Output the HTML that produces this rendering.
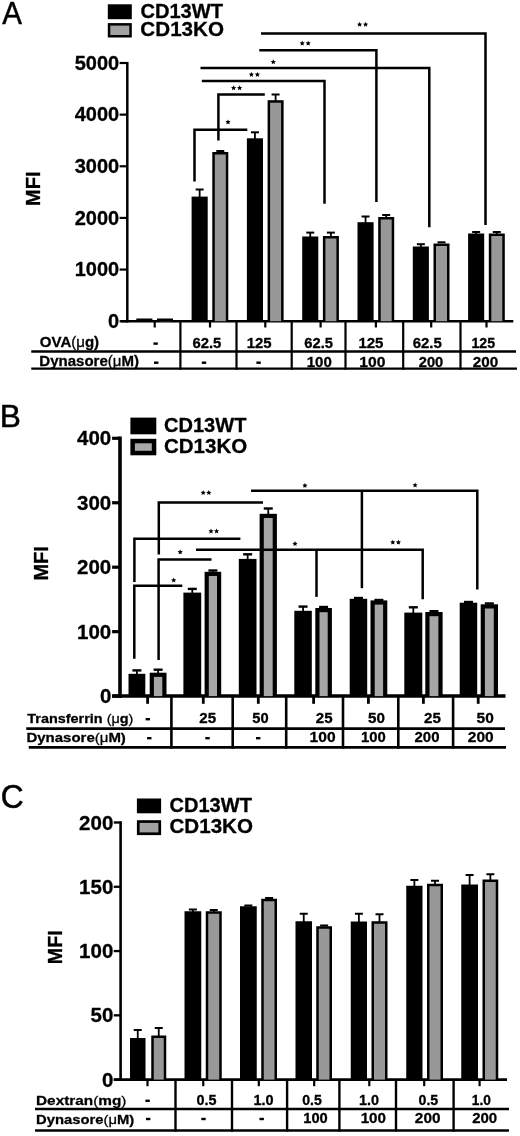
<!DOCTYPE html>
<html><head><meta charset="utf-8"><style>
html,body{margin:0;padding:0;background:#fff;overflow:hidden;width:520px;height:1136px;}
svg{display:block;will-change:transform;}
text{font-family:"Liberation Sans",sans-serif;font-size:100px;fill:#000;}
</style></head><body>
<svg width="520" height="1136" viewBox="0 0 520 1136" stroke="#000">
<text transform="translate(2.15,24.25) scale(0.2955,0.3203)" font-weight="normal" stroke="#000" stroke-width="1.69" stroke-linejoin="round">A</text>
<rect x="107.8" y="4.3" width="24" height="14.9" fill="#000" stroke="none"/>
<rect x="107.8" y="23.1" width="24" height="14.4" fill="#000" stroke="none"/>
<rect x="110.3" y="25.6" width="19" height="9.4" fill="#a2a2a2" stroke="none"/>
<text transform="translate(140.4,17.9) scale(0.2012,0.2000)" font-weight="bold" stroke="#000" stroke-width="1.50" stroke-linejoin="round">CD13WT</text>
<text transform="translate(140.37,36.3) scale(0.2063,0.2000)" font-weight="bold" stroke="#000" stroke-width="1.48" stroke-linejoin="round">CD13KO</text>
<line x1="127.3" y1="62" x2="127.3" y2="322.45" stroke-width="2.5" stroke-linecap="butt"/>
<line x1="119.6" y1="63" x2="127.3" y2="63" stroke-width="2.2" stroke-linecap="butt"/>
<text transform="translate(74.7,69.8) scale(0.2000,0.2000)" font-weight="bold" stroke="#000" stroke-width="1.50" stroke-linejoin="round">5000</text>
<line x1="119.6" y1="114.64" x2="127.3" y2="114.64" stroke-width="2.2" stroke-linecap="butt"/>
<text transform="translate(74.7,121.44) scale(0.2000,0.2000)" font-weight="bold" stroke="#000" stroke-width="1.50" stroke-linejoin="round">4000</text>
<line x1="119.6" y1="166.28" x2="127.3" y2="166.28" stroke-width="2.2" stroke-linecap="butt"/>
<text transform="translate(74.7,173.08) scale(0.2000,0.2000)" font-weight="bold" stroke="#000" stroke-width="1.50" stroke-linejoin="round">3000</text>
<line x1="119.6" y1="217.92" x2="127.3" y2="217.92" stroke-width="2.2" stroke-linecap="butt"/>
<text transform="translate(74.7,224.72) scale(0.2000,0.2000)" font-weight="bold" stroke="#000" stroke-width="1.50" stroke-linejoin="round">2000</text>
<line x1="119.6" y1="269.56" x2="127.3" y2="269.56" stroke-width="2.2" stroke-linecap="butt"/>
<text transform="translate(74.7,276.36) scale(0.2000,0.2000)" font-weight="bold" stroke="#000" stroke-width="1.50" stroke-linejoin="round">1000</text>
<line x1="119.6" y1="321.2" x2="127.3" y2="321.2" stroke-width="2.2" stroke-linecap="butt"/>
<text transform="translate(108.1,328) scale(0.2000,0.2000)" font-weight="bold" stroke="#000" stroke-width="1.50" stroke-linejoin="round">0</text>
<text transform="translate(40.2,205.9) rotate(-90) scale(0.2000,0.2087)" font-weight="bold" stroke="#000" stroke-width="1.47">MFI</text>
<line x1="120.8" y1="321.2" x2="513.3" y2="321.2" stroke-width="2.5" stroke-linecap="butt"/>
<line x1="154.7" y1="321.2" x2="154.7" y2="327.5" stroke-width="2.2" stroke-linecap="butt"/>
<line x1="210" y1="321.2" x2="210" y2="327.5" stroke-width="2.2" stroke-linecap="butt"/>
<line x1="265.3" y1="321.2" x2="265.3" y2="327.5" stroke-width="2.2" stroke-linecap="butt"/>
<line x1="320.6" y1="321.2" x2="320.6" y2="327.5" stroke-width="2.2" stroke-linecap="butt"/>
<line x1="375.9" y1="321.2" x2="375.9" y2="327.5" stroke-width="2.2" stroke-linecap="butt"/>
<line x1="431.2" y1="321.2" x2="431.2" y2="327.5" stroke-width="2.2" stroke-linecap="butt"/>
<line x1="486.5" y1="321.2" x2="486.5" y2="327.5" stroke-width="2.2" stroke-linecap="butt"/>
<line x1="180.4" y1="321.2" x2="180.4" y2="369.8" stroke-width="2.2" stroke-linecap="butt"/>
<line x1="236.5" y1="321.2" x2="236.5" y2="369.8" stroke-width="2.2" stroke-linecap="butt"/>
<line x1="291.7" y1="321.2" x2="291.7" y2="369.8" stroke-width="2.2" stroke-linecap="butt"/>
<line x1="345.5" y1="321.2" x2="345.5" y2="369.8" stroke-width="2.2" stroke-linecap="butt"/>
<line x1="403.2" y1="321.2" x2="403.2" y2="369.8" stroke-width="2.2" stroke-linecap="butt"/>
<line x1="460.5" y1="321.2" x2="460.5" y2="369.8" stroke-width="2.2" stroke-linecap="butt"/>
<line x1="31.25" y1="351.5" x2="516" y2="351.5" stroke-width="2.4" stroke-linecap="butt"/>
<line x1="31.25" y1="368.6" x2="517" y2="368.6" stroke-width="2.4" stroke-linecap="butt"/>
<text transform="translate(39.8,347.4) scale(0.1503,0.1420)" font-weight="bold" stroke="#000" stroke-width="2.05" stroke-linejoin="round">OVA<tspan font-weight="normal">(μ</tspan>g)</text>
<text transform="translate(39.35,365.6) scale(0.1502,0.1391)" font-weight="bold" stroke="#000" stroke-width="2.07" stroke-linejoin="round">Dynasore<tspan font-weight="normal">(μ</tspan>M)</text>
<rect x="136.3" y="318.5" width="16.1" height="2.7" fill="#000" stroke="none"/>
<rect x="157" y="318.5" width="16" height="2.7" fill="#000" stroke="none"/>
<rect x="159.5" y="321" width="11" height="0.2" fill="#989898" stroke="none"/>
<line x1="199.65" y1="189.5" x2="199.65" y2="197.6" stroke-width="1.8" stroke-linecap="butt"/>
<line x1="195.65" y1="189.5" x2="203.65" y2="189.5" stroke-width="2" stroke-linecap="butt"/>
<rect x="191.6" y="196.6" width="16.1" height="124.6" fill="#000" stroke="none"/>
<line x1="216.3" y1="151" x2="224.3" y2="151" stroke-width="2" stroke-linecap="butt"/>
<rect x="212.3" y="152" width="16" height="169.2" fill="#000" stroke="none"/>
<rect x="214.8" y="154.5" width="11" height="166.7" fill="#989898" stroke="none"/>
<line x1="254.95" y1="132.3" x2="254.95" y2="139.3" stroke-width="1.8" stroke-linecap="butt"/>
<line x1="250.95" y1="132.3" x2="258.95" y2="132.3" stroke-width="2" stroke-linecap="butt"/>
<rect x="246.9" y="138.3" width="16.1" height="182.9" fill="#000" stroke="none"/>
<line x1="275.6" y1="94.5" x2="275.6" y2="101.2" stroke-width="1.8" stroke-linecap="butt"/>
<line x1="271.6" y1="94.5" x2="279.6" y2="94.5" stroke-width="2" stroke-linecap="butt"/>
<rect x="267.6" y="100.2" width="16" height="221" fill="#000" stroke="none"/>
<rect x="270.1" y="102.7" width="11" height="218.5" fill="#989898" stroke="none"/>
<line x1="310.25" y1="232.6" x2="310.25" y2="237.5" stroke-width="1.8" stroke-linecap="butt"/>
<line x1="306.25" y1="232.6" x2="314.25" y2="232.6" stroke-width="2" stroke-linecap="butt"/>
<rect x="302.2" y="236.5" width="16.1" height="84.7" fill="#000" stroke="none"/>
<line x1="330.9" y1="232.6" x2="330.9" y2="237" stroke-width="1.8" stroke-linecap="butt"/>
<line x1="326.9" y1="232.6" x2="334.9" y2="232.6" stroke-width="2" stroke-linecap="butt"/>
<rect x="322.9" y="236" width="16" height="85.2" fill="#000" stroke="none"/>
<rect x="325.4" y="238.5" width="11" height="82.7" fill="#989898" stroke="none"/>
<line x1="365.55" y1="216.5" x2="365.55" y2="223.2" stroke-width="1.8" stroke-linecap="butt"/>
<line x1="361.55" y1="216.5" x2="369.55" y2="216.5" stroke-width="2" stroke-linecap="butt"/>
<rect x="357.5" y="222.2" width="16.1" height="99" fill="#000" stroke="none"/>
<line x1="386.2" y1="215" x2="386.2" y2="218" stroke-width="1.8" stroke-linecap="butt"/>
<line x1="382.2" y1="215" x2="390.2" y2="215" stroke-width="2" stroke-linecap="butt"/>
<rect x="378.2" y="217" width="16" height="104.2" fill="#000" stroke="none"/>
<rect x="380.7" y="219.5" width="11" height="101.7" fill="#989898" stroke="none"/>
<line x1="420.85" y1="244.2" x2="420.85" y2="247.5" stroke-width="1.8" stroke-linecap="butt"/>
<line x1="416.85" y1="244.2" x2="424.85" y2="244.2" stroke-width="2" stroke-linecap="butt"/>
<rect x="412.8" y="246.5" width="16.1" height="74.7" fill="#000" stroke="none"/>
<line x1="437.5" y1="242.3" x2="445.5" y2="242.3" stroke-width="2" stroke-linecap="butt"/>
<rect x="433.5" y="243.5" width="16" height="77.7" fill="#000" stroke="none"/>
<rect x="436" y="246" width="11" height="75.2" fill="#989898" stroke="none"/>
<line x1="476.15" y1="232" x2="476.15" y2="234.5" stroke-width="1.8" stroke-linecap="butt"/>
<line x1="472.15" y1="232" x2="480.15" y2="232" stroke-width="2" stroke-linecap="butt"/>
<rect x="468.1" y="233.5" width="16.1" height="87.7" fill="#000" stroke="none"/>
<line x1="496.8" y1="232" x2="496.8" y2="234.5" stroke-width="1.8" stroke-linecap="butt"/>
<line x1="492.8" y1="232" x2="500.8" y2="232" stroke-width="2" stroke-linecap="butt"/>
<rect x="488.8" y="233.5" width="16" height="87.7" fill="#000" stroke="none"/>
<rect x="491.3" y="236" width="11" height="85.2" fill="#989898" stroke="none"/>
<rect x="153.4" y="342.4" width="4.4" height="2.4" fill="#000" stroke="none"/>
<rect x="154" y="361.5" width="4.4" height="2.4" fill="#000" stroke="none"/>
<rect x="201.8" y="361.5" width="4.4" height="2.4" fill="#000" stroke="none"/>
<rect x="256.4" y="361.5" width="4.4" height="2.4" fill="#000" stroke="none"/>
<text transform="translate(192.51,347.7) scale(0.1484,0.1450)" font-weight="bold" stroke="#000" stroke-width="2.04" stroke-linejoin="round">62.5</text>
<text transform="translate(246.7,347.7) scale(0.1494,0.1450)" font-weight="bold" stroke="#000" stroke-width="2.04" stroke-linejoin="round">125</text>
<text transform="translate(304.31,347.7) scale(0.1473,0.1450)" font-weight="bold" stroke="#000" stroke-width="2.05" stroke-linejoin="round">62.5</text>
<text transform="translate(358.4,347.7) scale(0.1500,0.1450)" font-weight="bold" stroke="#000" stroke-width="2.03" stroke-linejoin="round">125</text>
<text transform="translate(412.7,347.7) scale(0.1495,0.1450)" font-weight="bold" stroke="#000" stroke-width="2.04" stroke-linejoin="round">62.5</text>
<text transform="translate(471.45,347.7) scale(0.1418,0.1450)" font-weight="bold" stroke="#000" stroke-width="2.09" stroke-linejoin="round">125</text>
<text transform="translate(306.7,366.8) scale(0.1503,0.1450)" font-weight="bold" stroke="#000" stroke-width="2.03" stroke-linejoin="round">100</text>
<text transform="translate(359.36,366.8) scale(0.1567,0.1450)" font-weight="bold" stroke="#000" stroke-width="1.99" stroke-linejoin="round">100</text>
<text transform="translate(418.76,366.8) scale(0.1469,0.1450)" font-weight="bold" stroke="#000" stroke-width="2.06" stroke-linejoin="round">200</text>
<text transform="translate(472.74,366.8) scale(0.1525,0.1450)" font-weight="bold" stroke="#000" stroke-width="2.02" stroke-linejoin="round">200</text>
<polyline points="261,33.6 485.5,33.6 485.5,225" stroke-width="2.5" fill="none" stroke-linejoin="miter"/>
<polygon points="359.60,21.80 360.36,23.45 362.17,23.67 360.83,24.90 361.19,26.68 359.60,25.80 358.01,26.68 358.37,24.90 357.03,23.67 358.84,23.45" fill="#000" stroke="none"/>
<polygon points="365.60,21.80 366.36,23.45 368.17,23.67 366.83,24.90 367.19,26.68 365.60,25.80 364.01,26.68 364.37,24.90 363.03,23.67 364.84,23.45" fill="#000" stroke="none"/>
<polyline points="259.3,50.2 376.4,50.2 376.4,202" stroke-width="2.5" fill="none" stroke-linejoin="miter"/>
<polygon points="302.20,40.70 302.96,42.35 304.77,42.57 303.43,43.80 303.79,45.58 302.20,44.70 300.61,45.58 300.97,43.80 299.63,42.57 301.44,42.35" fill="#000" stroke="none"/>
<polygon points="308.20,40.70 308.96,42.35 310.77,42.57 309.43,43.80 309.79,45.58 308.20,44.70 306.61,45.58 306.97,43.80 305.63,42.57 307.44,42.35" fill="#000" stroke="none"/>
<polyline points="200.5,68.1 429.3,68.1 429.3,227.3" stroke-width="2.5" fill="none" stroke-linejoin="miter"/>
<polygon points="273.30,59.30 274.06,60.95 275.87,61.17 274.53,62.40 274.89,64.18 273.30,63.30 271.71,64.18 272.07,62.40 270.73,61.17 272.54,60.95" fill="#000" stroke="none"/>
<polyline points="201.8,81 324.5,81 324.5,203.8" stroke-width="2.5" fill="none" stroke-linejoin="miter"/>
<polygon points="251.40,71.90 252.16,73.55 253.97,73.77 252.63,75.00 252.99,76.78 251.40,75.90 249.81,76.78 250.17,75.00 248.83,73.77 250.64,73.55" fill="#000" stroke="none"/>
<polygon points="257.40,71.90 258.16,73.55 259.97,73.77 258.63,75.00 258.99,76.78 257.40,75.90 255.81,76.78 256.17,75.00 254.83,73.77 256.64,73.55" fill="#000" stroke="none"/>
<polyline points="218.4,140.4 218.4,94.4 264.8,94.4" stroke-width="2.5" fill="none" stroke-linejoin="miter"/>
<polygon points="233.60,85.30 234.36,86.95 236.17,87.17 234.83,88.40 235.19,90.18 233.60,89.30 232.01,90.18 232.37,88.40 231.03,87.17 232.84,86.95" fill="#000" stroke="none"/>
<polygon points="239.60,85.30 240.36,86.95 242.17,87.17 240.83,88.40 241.19,90.18 239.60,89.30 238.01,90.18 238.37,88.40 237.03,87.17 238.84,86.95" fill="#000" stroke="none"/>
<polyline points="194.5,181.5 194.5,129.8 247.3,129.8" stroke-width="2.5" fill="none" stroke-linejoin="miter"/>
<polygon points="228.00,119.40 228.76,121.05 230.57,121.27 229.23,122.50 229.59,124.28 228.00,123.40 226.41,124.28 226.77,122.50 225.43,121.27 227.24,121.05" fill="#000" stroke="none"/>
<text transform="translate(-0.29,427.35) scale(0.3170,0.3217)" font-weight="normal" stroke="#000" stroke-width="1.58" stroke-linejoin="round">B</text>
<rect x="130.4" y="417.6" width="25.9" height="16.7" fill="#000" stroke="none"/>
<rect x="130.4" y="438.8" width="25.9" height="16.5" fill="#000" stroke="none"/>
<rect x="134.9" y="443.3" width="16.9" height="7.5" fill="#a8a8a8" stroke="none"/>
<text transform="translate(164,431.95) scale(0.2005,0.2000)" font-weight="bold" stroke="#000" stroke-width="1.50" stroke-linejoin="round">CD13WT</text>
<text transform="translate(163.98,452.9) scale(0.2053,0.2000)" font-weight="bold" stroke="#000" stroke-width="1.48" stroke-linejoin="round">CD13KO</text>
<line x1="120" y1="436.6" x2="120" y2="697.9" stroke-width="3.6" stroke-linecap="butt"/>
<line x1="112.1" y1="438.3" x2="120" y2="438.3" stroke-width="3.2" stroke-linecap="butt"/>
<text transform="translate(76.99,445.37) scale(0.2050,0.2050)" font-weight="bold" stroke="#000" stroke-width="1.46" stroke-linejoin="round">400</text>
<line x1="112.1" y1="502.75" x2="120" y2="502.75" stroke-width="3.2" stroke-linecap="butt"/>
<text transform="translate(76.99,509.82) scale(0.2050,0.2050)" font-weight="bold" stroke="#000" stroke-width="1.46" stroke-linejoin="round">300</text>
<line x1="112.1" y1="567.2" x2="120" y2="567.2" stroke-width="3.2" stroke-linecap="butt"/>
<text transform="translate(76.99,574.27) scale(0.2050,0.2050)" font-weight="bold" stroke="#000" stroke-width="1.46" stroke-linejoin="round">200</text>
<line x1="112.1" y1="631.65" x2="120" y2="631.65" stroke-width="3.2" stroke-linecap="butt"/>
<text transform="translate(76.98,638.72) scale(0.2050,0.2050)" font-weight="bold" stroke="#000" stroke-width="1.46" stroke-linejoin="round">100</text>
<line x1="112.1" y1="696.1" x2="120" y2="696.1" stroke-width="3.2" stroke-linecap="butt"/>
<text transform="translate(99.94,703.17) scale(0.2050,0.2050)" font-weight="bold" stroke="#000" stroke-width="1.46" stroke-linejoin="round">0</text>
<text transform="translate(48.1,580.6) rotate(-90) scale(0.2006,0.2072)" font-weight="bold" stroke="#000" stroke-width="1.47">MFI</text>
<line x1="112.1" y1="696.1" x2="505.5" y2="696.1" stroke-width="3.5" stroke-linecap="butt"/>
<line x1="147.6" y1="696.1" x2="147.6" y2="703.8" stroke-width="2.8" stroke-linecap="butt"/>
<line x1="203.3" y1="696.1" x2="203.3" y2="703.8" stroke-width="2.8" stroke-linecap="butt"/>
<line x1="258.3" y1="696.1" x2="258.3" y2="703.8" stroke-width="2.8" stroke-linecap="butt"/>
<line x1="313.6" y1="696.1" x2="313.6" y2="703.8" stroke-width="2.8" stroke-linecap="butt"/>
<line x1="368.4" y1="696.1" x2="368.4" y2="703.8" stroke-width="2.8" stroke-linecap="butt"/>
<line x1="423.4" y1="696.1" x2="423.4" y2="703.8" stroke-width="2.8" stroke-linecap="butt"/>
<line x1="478.2" y1="696.1" x2="478.2" y2="703.8" stroke-width="2.8" stroke-linecap="butt"/>
<line x1="171.4" y1="696.1" x2="171.4" y2="748.5" stroke-width="2.6" stroke-linecap="butt"/>
<line x1="232.7" y1="696.1" x2="232.7" y2="748.5" stroke-width="2.6" stroke-linecap="butt"/>
<line x1="286.2" y1="696.1" x2="286.2" y2="748.5" stroke-width="2.6" stroke-linecap="butt"/>
<line x1="343" y1="696.1" x2="343" y2="748.5" stroke-width="2.6" stroke-linecap="butt"/>
<line x1="398.3" y1="696.1" x2="398.3" y2="748.5" stroke-width="2.6" stroke-linecap="butt"/>
<line x1="453.1" y1="696.1" x2="453.1" y2="748.5" stroke-width="2.6" stroke-linecap="butt"/>
<line x1="26.25" y1="728.6" x2="505" y2="728.6" stroke-width="2.6" stroke-linecap="butt"/>
<line x1="28.75" y1="747.4" x2="506" y2="747.4" stroke-width="2.6" stroke-linecap="butt"/>
<text transform="translate(27.36,723) scale(0.1442,0.1333)" font-weight="bold" stroke="#000" stroke-width="2.16" stroke-linejoin="round">Transferrin<tspan font-weight="normal"> (μ</tspan>g<tspan font-weight="normal">)</tspan></text>
<text transform="translate(26.45,741.5) scale(0.1499,0.1348)" font-weight="bold" stroke="#000" stroke-width="2.11" stroke-linejoin="round">Dynasore<tspan font-weight="normal">(μ</tspan>M)</text>
<line x1="136.9" y1="670.4" x2="136.9" y2="674.8" stroke-width="1.8" stroke-linecap="butt"/>
<line x1="132.4" y1="670.4" x2="141.4" y2="670.4" stroke-width="2.4" stroke-linecap="butt"/>
<rect x="128.5" y="673.8" width="16.8" height="22.3" fill="#000" stroke="none"/>
<line x1="158.1" y1="669.7" x2="158.1" y2="673.7" stroke-width="1.8" stroke-linecap="butt"/>
<line x1="153.6" y1="669.7" x2="162.6" y2="669.7" stroke-width="2.4" stroke-linecap="butt"/>
<rect x="149.7" y="672.7" width="16.8" height="23.4" fill="#000" stroke="none"/>
<rect x="153.9" y="676.9" width="8.4" height="19.2" fill="#a6a6a6" stroke="none"/>
<line x1="192.3" y1="588.9" x2="192.3" y2="593.6" stroke-width="1.8" stroke-linecap="butt"/>
<line x1="187.8" y1="588.9" x2="196.8" y2="588.9" stroke-width="2.4" stroke-linecap="butt"/>
<rect x="183.4" y="592.6" width="17.8" height="103.5" fill="#000" stroke="none"/>
<line x1="212.9" y1="570.5" x2="212.9" y2="572.8" stroke-width="1.8" stroke-linecap="butt"/>
<line x1="208.4" y1="570.5" x2="217.4" y2="570.5" stroke-width="2.4" stroke-linecap="butt"/>
<rect x="204.6" y="571.8" width="16.6" height="124.3" fill="#000" stroke="none"/>
<rect x="208.8" y="576" width="8.2" height="120.1" fill="#a6a6a6" stroke="none"/>
<line x1="247.65" y1="554.3" x2="247.65" y2="559.9" stroke-width="1.8" stroke-linecap="butt"/>
<line x1="243.15" y1="554.3" x2="252.15" y2="554.3" stroke-width="2.4" stroke-linecap="butt"/>
<rect x="238.8" y="558.9" width="17.7" height="137.2" fill="#000" stroke="none"/>
<line x1="268.25" y1="508.5" x2="268.25" y2="514.8" stroke-width="1.8" stroke-linecap="butt"/>
<line x1="263.75" y1="508.5" x2="272.75" y2="508.5" stroke-width="2.4" stroke-linecap="butt"/>
<rect x="259.6" y="513.8" width="17.3" height="182.3" fill="#000" stroke="none"/>
<rect x="263.8" y="518" width="8.9" height="178.1" fill="#a6a6a6" stroke="none"/>
<line x1="303.05" y1="606.6" x2="303.05" y2="611.8" stroke-width="1.8" stroke-linecap="butt"/>
<line x1="298.55" y1="606.6" x2="307.55" y2="606.6" stroke-width="2.4" stroke-linecap="butt"/>
<rect x="294.3" y="610.8" width="17.5" height="85.3" fill="#000" stroke="none"/>
<line x1="319.1" y1="607" x2="328.1" y2="607" stroke-width="2.4" stroke-linecap="butt"/>
<rect x="315.3" y="608" width="16.6" height="88.1" fill="#000" stroke="none"/>
<rect x="319.5" y="612.2" width="8.2" height="83.9" fill="#a6a6a6" stroke="none"/>
<line x1="353.95" y1="598" x2="362.95" y2="598" stroke-width="2.4" stroke-linecap="butt"/>
<rect x="349.7" y="598.8" width="17.5" height="97.3" fill="#000" stroke="none"/>
<line x1="374.4" y1="600" x2="383.4" y2="600" stroke-width="2.4" stroke-linecap="butt"/>
<rect x="370.5" y="600.4" width="16.8" height="95.7" fill="#000" stroke="none"/>
<rect x="374.7" y="604.6" width="8.4" height="91.5" fill="#a6a6a6" stroke="none"/>
<line x1="413.3" y1="607.3" x2="413.3" y2="613.6" stroke-width="1.8" stroke-linecap="butt"/>
<line x1="408.8" y1="607.3" x2="417.8" y2="607.3" stroke-width="2.4" stroke-linecap="butt"/>
<rect x="404.3" y="612.6" width="18" height="83.5" fill="#000" stroke="none"/>
<line x1="429.45" y1="611.2" x2="438.45" y2="611.2" stroke-width="2.4" stroke-linecap="butt"/>
<rect x="425.3" y="612" width="17.3" height="84.1" fill="#000" stroke="none"/>
<rect x="429.5" y="616.2" width="8.9" height="79.9" fill="#a6a6a6" stroke="none"/>
<line x1="463.95" y1="602" x2="472.95" y2="602" stroke-width="2.4" stroke-linecap="butt"/>
<rect x="459.7" y="602.7" width="17.5" height="93.4" fill="#000" stroke="none"/>
<line x1="484.85" y1="603.5" x2="493.85" y2="603.5" stroke-width="2.4" stroke-linecap="butt"/>
<rect x="480.7" y="604.3" width="17.3" height="91.8" fill="#000" stroke="none"/>
<rect x="484.9" y="608.5" width="8.9" height="87.6" fill="#a6a6a6" stroke="none"/>
<rect x="145.6" y="718" width="4.4" height="2.4" fill="#000" stroke="none"/>
<rect x="147.1" y="737" width="4.4" height="2.4" fill="#000" stroke="none"/>
<rect x="205.3" y="737" width="4.4" height="2.4" fill="#000" stroke="none"/>
<rect x="256" y="737" width="4.4" height="2.4" fill="#000" stroke="none"/>
<text transform="translate(199.35,723.47) scale(0.1514,0.1470)" font-weight="bold" stroke="#000" stroke-width="2.01" stroke-linejoin="round">25</text>
<text transform="translate(252.36,723.47) scale(0.1471,0.1470)" font-weight="bold" stroke="#000" stroke-width="2.04" stroke-linejoin="round">50</text>
<text transform="translate(315.85,723.47) scale(0.1505,0.1470)" font-weight="bold" stroke="#000" stroke-width="2.02" stroke-linejoin="round">25</text>
<text transform="translate(368.04,723.47) scale(0.1519,0.1470)" font-weight="bold" stroke="#000" stroke-width="2.01" stroke-linejoin="round">50</text>
<text transform="translate(424.05,723.47) scale(0.1514,0.1470)" font-weight="bold" stroke="#000" stroke-width="2.01" stroke-linejoin="round">25</text>
<text transform="translate(476.54,723.47) scale(0.1548,0.1470)" font-weight="bold" stroke="#000" stroke-width="1.99" stroke-linejoin="round">50</text>
<text transform="translate(309.56,742.07) scale(0.1561,0.1470)" font-weight="bold" stroke="#000" stroke-width="1.98" stroke-linejoin="round">100</text>
<text transform="translate(360.91,742.07) scale(0.1484,0.1470)" font-weight="bold" stroke="#000" stroke-width="2.03" stroke-linejoin="round">100</text>
<text transform="translate(414.55,742.07) scale(0.1494,0.1470)" font-weight="bold" stroke="#000" stroke-width="2.02" stroke-linejoin="round">200</text>
<text transform="translate(467.84,742.07) scale(0.1550,0.1470)" font-weight="bold" stroke="#000" stroke-width="1.99" stroke-linejoin="round">200</text>
<polyline points="251,490.8 477.3,490.8 477.3,589.5" stroke-width="2.5" fill="none" stroke-linejoin="miter"/>
<line x1="361.9" y1="490.8" x2="361.9" y2="588.2" stroke-width="2.5" stroke-linecap="butt"/>
<polygon points="304.90,482.90 305.66,484.55 307.47,484.77 306.13,486.00 306.49,487.78 304.90,486.90 303.31,487.78 303.67,486.00 302.33,484.77 304.14,484.55" fill="#000" stroke="none"/>
<polygon points="415.10,482.50 415.86,484.15 417.67,484.37 416.33,485.60 416.69,487.38 415.10,486.50 413.51,487.38 413.87,485.60 412.53,484.37 414.34,484.15" fill="#000" stroke="none"/>
<polyline points="158.8,554.6 158.8,502.5 263,502.5" stroke-width="2.5" fill="none" stroke-linejoin="miter"/>
<polygon points="203.20,490.10 203.96,491.75 205.77,491.97 204.43,493.20 204.79,494.98 203.20,494.10 201.61,494.98 201.97,493.20 200.63,491.97 202.44,491.75" fill="#000" stroke="none"/>
<polygon points="208.80,490.10 209.56,491.75 211.37,491.97 210.03,493.20 210.39,494.98 208.80,494.10 207.21,494.98 207.57,493.20 206.23,491.97 208.04,491.75" fill="#000" stroke="none"/>
<polyline points="134.4,582 134.4,538.8 240.4,538.8" stroke-width="2.5" fill="none" stroke-linejoin="miter"/>
<polygon points="211.00,528.50 211.76,530.15 213.57,530.37 212.23,531.60 212.59,533.38 211.00,532.50 209.41,533.38 209.77,531.60 208.43,530.37 210.24,530.15" fill="#000" stroke="none"/>
<polygon points="216.60,528.50 217.36,530.15 219.17,530.37 217.83,531.60 218.19,533.38 216.60,532.50 215.01,533.38 215.37,531.60 214.03,530.37 215.84,530.15" fill="#000" stroke="none"/>
<polyline points="196,549.8 422.7,549.8 422.7,599.2" stroke-width="2.5" fill="none" stroke-linejoin="miter"/>
<line x1="316.5" y1="549.8" x2="316.5" y2="596.9" stroke-width="2.5" stroke-linecap="butt"/>
<polygon points="295.00,541.10 295.76,542.75 297.57,542.97 296.23,544.20 296.59,545.98 295.00,545.10 293.41,545.98 293.77,544.20 292.43,542.97 294.24,542.75" fill="#000" stroke="none"/>
<polygon points="392.80,539.70 393.56,541.35 395.37,541.57 394.03,542.80 394.39,544.58 392.80,543.70 391.21,544.58 391.57,542.80 390.23,541.57 392.04,541.35" fill="#000" stroke="none"/>
<polygon points="398.40,539.70 399.16,541.35 400.97,541.57 399.63,542.80 399.99,544.58 398.40,543.70 396.81,544.58 397.17,542.80 395.83,541.57 397.64,541.35" fill="#000" stroke="none"/>
<polyline points="158.6,660 158.6,559.4 211.5,559.4" stroke-width="2.5" fill="none" stroke-linejoin="miter"/>
<polygon points="180.20,549.40 180.96,551.05 182.77,551.27 181.43,552.50 181.79,554.28 180.20,553.40 178.61,554.28 178.97,552.50 177.63,551.27 179.44,551.05" fill="#000" stroke="none"/>
<polyline points="134.3,658.8 134.3,585.7 182.3,585.7" stroke-width="2.5" fill="none" stroke-linejoin="miter"/>
<polygon points="173.70,577.60 174.46,579.25 176.27,579.47 174.93,580.70 175.29,582.48 173.70,581.60 172.11,582.48 172.47,580.70 171.13,579.47 172.94,579.25" fill="#000" stroke="none"/>
<text transform="translate(0.66,808.17) scale(0.3175,0.3275)" font-weight="normal" stroke="#000" stroke-width="1.58" stroke-linejoin="round">C</text>
<rect x="136.9" y="798.5" width="24.2" height="14.8" fill="#000" stroke="none"/>
<rect x="136.9" y="820.2" width="24.2" height="14.9" fill="#000" stroke="none"/>
<rect x="139.6" y="822.9" width="18.8" height="9.5" fill="#a2a2a2" stroke="none"/>
<text transform="translate(169.5,812.15) scale(0.2005,0.2000)" font-weight="bold" stroke="#000" stroke-width="1.50" stroke-linejoin="round">CD13WT</text>
<text transform="translate(169.48,832.75) scale(0.2058,0.2000)" font-weight="bold" stroke="#000" stroke-width="1.48" stroke-linejoin="round">CD13KO</text>
<line x1="120.6" y1="821.3" x2="120.6" y2="1080.85" stroke-width="2.6" stroke-linecap="butt"/>
<line x1="113.75" y1="822.5" x2="120.6" y2="822.5" stroke-width="2.3" stroke-linecap="butt"/>
<text transform="translate(79.09,829.57) scale(0.2050,0.2050)" font-weight="bold" stroke="#000" stroke-width="1.46" stroke-linejoin="round">200</text>
<line x1="113.75" y1="886.78" x2="120.6" y2="886.78" stroke-width="2.3" stroke-linecap="butt"/>
<text transform="translate(79.08,893.85) scale(0.2050,0.2050)" font-weight="bold" stroke="#000" stroke-width="1.46" stroke-linejoin="round">150</text>
<line x1="113.75" y1="951.06" x2="120.6" y2="951.06" stroke-width="2.3" stroke-linecap="butt"/>
<text transform="translate(79.08,958.13) scale(0.2050,0.2050)" font-weight="bold" stroke="#000" stroke-width="1.46" stroke-linejoin="round">100</text>
<line x1="113.75" y1="1015.34" x2="120.6" y2="1015.34" stroke-width="2.3" stroke-linecap="butt"/>
<text transform="translate(90.57,1022.41) scale(0.2050,0.2050)" font-weight="bold" stroke="#000" stroke-width="1.46" stroke-linejoin="round">50</text>
<line x1="113.75" y1="1079.62" x2="120.6" y2="1079.62" stroke-width="2.3" stroke-linecap="butt"/>
<text transform="translate(102.04,1086.69) scale(0.2050,0.2050)" font-weight="bold" stroke="#000" stroke-width="1.46" stroke-linejoin="round">0</text>
<text transform="translate(61.8,964.28) rotate(-90) scale(0.1975,0.2101)" font-weight="bold" stroke="#000" stroke-width="1.47">MFI</text>
<line x1="113.75" y1="1079.6" x2="507" y2="1079.6" stroke-width="2.6" stroke-linecap="butt"/>
<line x1="147.5" y1="1079.6" x2="147.5" y2="1086.2" stroke-width="2.2" stroke-linecap="butt"/>
<line x1="203.25" y1="1079.6" x2="203.25" y2="1086.2" stroke-width="2.2" stroke-linecap="butt"/>
<line x1="258.8" y1="1079.6" x2="258.8" y2="1086.2" stroke-width="2.2" stroke-linecap="butt"/>
<line x1="314.2" y1="1079.6" x2="314.2" y2="1086.2" stroke-width="2.2" stroke-linecap="butt"/>
<line x1="369.3" y1="1079.6" x2="369.3" y2="1086.2" stroke-width="2.2" stroke-linecap="butt"/>
<line x1="424.2" y1="1079.6" x2="424.2" y2="1086.2" stroke-width="2.2" stroke-linecap="butt"/>
<line x1="479.6" y1="1079.6" x2="479.6" y2="1086.2" stroke-width="2.2" stroke-linecap="butt"/>
<line x1="175.5" y1="1079.6" x2="175.5" y2="1131.6" stroke-width="2.4" stroke-linecap="butt"/>
<line x1="232" y1="1079.6" x2="232" y2="1131.6" stroke-width="2.4" stroke-linecap="butt"/>
<line x1="287.1" y1="1079.6" x2="287.1" y2="1131.6" stroke-width="2.4" stroke-linecap="butt"/>
<line x1="339.4" y1="1079.6" x2="339.4" y2="1131.6" stroke-width="2.4" stroke-linecap="butt"/>
<line x1="396" y1="1079.6" x2="396" y2="1131.6" stroke-width="2.4" stroke-linecap="butt"/>
<line x1="453.6" y1="1079.6" x2="453.6" y2="1131.6" stroke-width="2.4" stroke-linecap="butt"/>
<line x1="35" y1="1109.1" x2="509" y2="1109.1" stroke-width="2.5" stroke-linecap="butt"/>
<line x1="35" y1="1130.4" x2="509" y2="1130.4" stroke-width="2.5" stroke-linecap="butt"/>
<text transform="translate(36.03,1105) scale(0.1535,0.1333)" font-weight="bold" stroke="#000" stroke-width="2.09" stroke-linejoin="round">Dextran<tspan font-weight="normal">(</tspan>mg<tspan font-weight="normal">)</tspan></text>
<text transform="translate(36.06,1123.5) scale(0.1481,0.1348)" font-weight="bold" stroke="#000" stroke-width="2.12" stroke-linejoin="round">Dynasore<tspan font-weight="normal">(μ</tspan>M)</text>
<line x1="137.75" y1="1030" x2="137.75" y2="1039" stroke-width="1.8" stroke-linecap="butt"/>
<line x1="133.75" y1="1030" x2="141.75" y2="1030" stroke-width="2" stroke-linecap="butt"/>
<rect x="130" y="1038" width="15.5" height="41.6" fill="#000" stroke="none"/>
<line x1="158.75" y1="1028" x2="158.75" y2="1036.5" stroke-width="1.8" stroke-linecap="butt"/>
<line x1="154.75" y1="1028" x2="162.75" y2="1028" stroke-width="2" stroke-linecap="butt"/>
<rect x="151.25" y="1035.5" width="15" height="44.1" fill="#000" stroke="none"/>
<rect x="153.75" y="1038" width="10" height="41.6" fill="#989898" stroke="none"/>
<line x1="192.88" y1="909.5" x2="192.88" y2="912.25" stroke-width="1.8" stroke-linecap="butt"/>
<line x1="188.88" y1="909.5" x2="196.88" y2="909.5" stroke-width="2" stroke-linecap="butt"/>
<rect x="184.5" y="911.25" width="16.75" height="168.35" fill="#000" stroke="none"/>
<line x1="213.75" y1="910" x2="213.75" y2="912.25" stroke-width="1.8" stroke-linecap="butt"/>
<line x1="209.75" y1="910" x2="217.75" y2="910" stroke-width="2" stroke-linecap="butt"/>
<rect x="205.75" y="911.25" width="16" height="168.35" fill="#000" stroke="none"/>
<rect x="208.25" y="913.75" width="11" height="165.85" fill="#989898" stroke="none"/>
<line x1="244.38" y1="905.5" x2="252.38" y2="905.5" stroke-width="2" stroke-linecap="butt"/>
<rect x="240" y="906.25" width="16.75" height="173.35" fill="#000" stroke="none"/>
<line x1="265.12" y1="898" x2="273.12" y2="898" stroke-width="2" stroke-linecap="butt"/>
<rect x="261.25" y="898.75" width="15.75" height="180.85" fill="#000" stroke="none"/>
<rect x="263.75" y="901.25" width="10.75" height="178.35" fill="#989898" stroke="none"/>
<line x1="303.75" y1="913.75" x2="303.75" y2="922.25" stroke-width="1.8" stroke-linecap="butt"/>
<line x1="299.75" y1="913.75" x2="307.75" y2="913.75" stroke-width="2" stroke-linecap="butt"/>
<rect x="295.5" y="921.25" width="16.5" height="158.35" fill="#000" stroke="none"/>
<line x1="320.12" y1="925.5" x2="328.12" y2="925.5" stroke-width="2" stroke-linecap="butt"/>
<rect x="316.25" y="926.25" width="15.75" height="153.35" fill="#000" stroke="none"/>
<rect x="318.75" y="928.75" width="10.75" height="150.85" fill="#989898" stroke="none"/>
<line x1="358.88" y1="913.75" x2="358.88" y2="922.5" stroke-width="1.8" stroke-linecap="butt"/>
<line x1="354.88" y1="913.75" x2="362.88" y2="913.75" stroke-width="2" stroke-linecap="butt"/>
<rect x="350.75" y="921.5" width="16.25" height="158.1" fill="#000" stroke="none"/>
<line x1="379.5" y1="914.25" x2="379.5" y2="922.25" stroke-width="1.8" stroke-linecap="butt"/>
<line x1="375.5" y1="914.25" x2="383.5" y2="914.25" stroke-width="2" stroke-linecap="butt"/>
<rect x="371.5" y="921.25" width="16" height="158.35" fill="#000" stroke="none"/>
<rect x="374" y="923.75" width="11" height="155.85" fill="#989898" stroke="none"/>
<line x1="414.38" y1="880" x2="414.38" y2="886.75" stroke-width="1.8" stroke-linecap="butt"/>
<line x1="410.38" y1="880" x2="418.38" y2="880" stroke-width="2" stroke-linecap="butt"/>
<rect x="406.25" y="885.75" width="16.25" height="193.85" fill="#000" stroke="none"/>
<line x1="435" y1="880.75" x2="435" y2="884.75" stroke-width="1.8" stroke-linecap="butt"/>
<line x1="431" y1="880.75" x2="439" y2="880.75" stroke-width="2" stroke-linecap="butt"/>
<rect x="427" y="883.75" width="16" height="195.85" fill="#000" stroke="none"/>
<rect x="429.5" y="886.25" width="11" height="193.35" fill="#989898" stroke="none"/>
<line x1="469.62" y1="875" x2="469.62" y2="885.5" stroke-width="1.8" stroke-linecap="butt"/>
<line x1="465.62" y1="875" x2="473.62" y2="875" stroke-width="2" stroke-linecap="butt"/>
<rect x="461.25" y="884.5" width="16.75" height="195.1" fill="#000" stroke="none"/>
<line x1="490.38" y1="874.25" x2="490.38" y2="880.5" stroke-width="1.8" stroke-linecap="butt"/>
<line x1="486.38" y1="874.25" x2="494.38" y2="874.25" stroke-width="2" stroke-linecap="butt"/>
<rect x="482.5" y="879.5" width="15.75" height="200.1" fill="#000" stroke="none"/>
<rect x="485" y="882" width="10.75" height="197.6" fill="#989898" stroke="none"/>
<rect x="145.4" y="1099.6" width="4.4" height="2.4" fill="#000" stroke="none"/>
<rect x="146" y="1117.8" width="4.4" height="2.4" fill="#000" stroke="none"/>
<rect x="201.3" y="1117.8" width="4.4" height="2.4" fill="#000" stroke="none"/>
<rect x="259.5" y="1117.8" width="4.4" height="2.4" fill="#000" stroke="none"/>
<text transform="translate(196.62,1105.3) scale(0.1439,0.1450)" font-weight="bold" stroke="#000" stroke-width="2.08" stroke-linejoin="round">0.5</text>
<text transform="translate(253.43,1105.3) scale(0.1450,0.1450)" font-weight="bold" stroke="#000" stroke-width="2.07" stroke-linejoin="round">1.0</text>
<text transform="translate(302.24,1105.3) scale(0.1409,0.1450)" font-weight="bold" stroke="#000" stroke-width="2.10" stroke-linejoin="round">0.5</text>
<text transform="translate(359.03,1105.3) scale(0.1442,0.1450)" font-weight="bold" stroke="#000" stroke-width="2.07" stroke-linejoin="round">1.0</text>
<text transform="translate(418.53,1105.3) scale(0.1417,0.1450)" font-weight="bold" stroke="#000" stroke-width="2.09" stroke-linejoin="round">0.5</text>
<text transform="translate(471.78,1105.3) scale(0.1372,0.1450)" font-weight="bold" stroke="#000" stroke-width="2.13" stroke-linejoin="round">1.0</text>
<text transform="translate(303.22,1122.9) scale(0.1471,0.1450)" font-weight="bold" stroke="#000" stroke-width="2.05" stroke-linejoin="round">100</text>
<text transform="translate(360.69,1122.9) scale(0.1516,0.1450)" font-weight="bold" stroke="#000" stroke-width="2.02" stroke-linejoin="round">100</text>
<text transform="translate(414.84,1122.9) scale(0.1537,0.1450)" font-weight="bold" stroke="#000" stroke-width="2.01" stroke-linejoin="round">200</text>
<text transform="translate(472.15,1122.9) scale(0.1500,0.1450)" font-weight="bold" stroke="#000" stroke-width="2.03" stroke-linejoin="round">200</text>
</svg>
</body></html>
